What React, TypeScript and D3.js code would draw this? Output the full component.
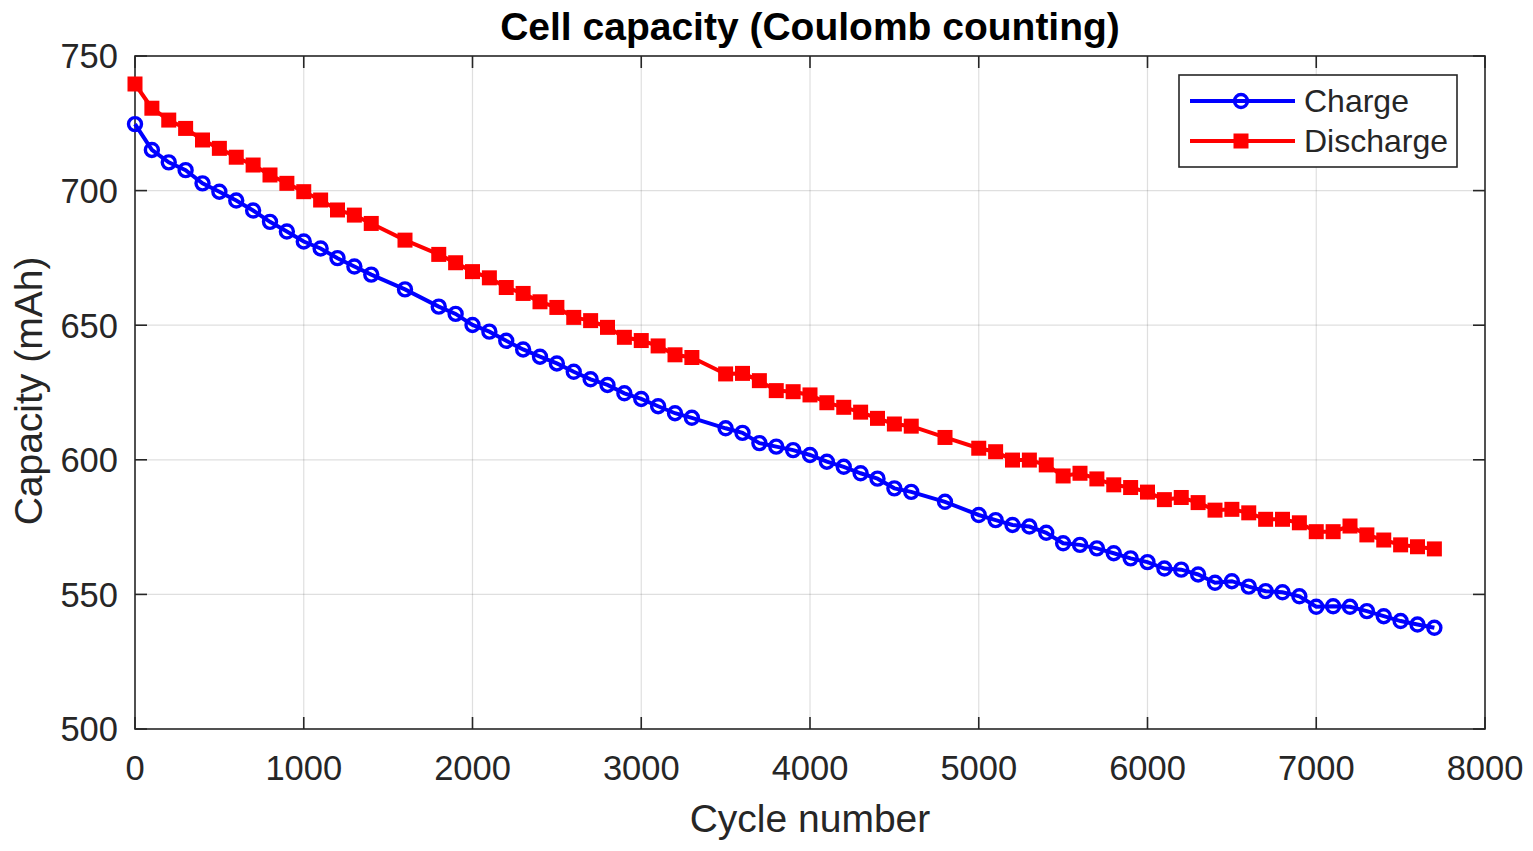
import * as d3 from 'd3'

const cycles = [
  0, 100, 200, 300, 400, 500, 600, 700, 800, 900, 1000, 1100, 1200, 1300, 1400,
  1600, 1800, 1900, 2000, 2100, 2200, 2300, 2400, 2500, 2600, 2700, 2800, 2900,
  3000, 3100, 3200, 3300, 3500, 3600, 3700, 3800, 3900, 4000, 4100, 4200, 4300,
  4400, 4500, 4600, 4800, 5000, 5100, 5200, 5300, 5400, 5500, 5600, 5700, 5800,
  5900, 6000, 6100, 6200, 6300, 6400, 6500, 6600, 6700, 6800, 6900, 7000, 7100,
  7200, 7300, 7400, 7500, 7600, 7700,
]

const charge = [
  724.7, 715.1, 710.5, 707.6, 702.7, 699.6, 696.3, 692.6, 688.4, 684.8, 681.1, 678.5, 674.9, 671.8, 668.8,
  663.3, 656.9, 654.2, 650.1, 647.6, 644.2, 641.0, 638.3, 635.8, 632.7, 629.9, 627.8, 624.7,
  622.6, 619.9, 617.3, 615.6, 611.7, 610.0, 606.2, 604.9, 603.6, 601.8, 599.3, 597.4, 595.0,
  593.0, 589.4, 588.1, 584.4, 579.5, 577.6, 575.8, 575.2, 572.9, 569.0, 568.4, 567.1, 565.3,
  563.4, 562.0, 559.6, 559.2, 557.4, 554.3, 554.9, 552.9, 551.2, 550.8, 549.3, 545.4, 545.6,
  545.4, 543.8, 541.9, 540.1, 538.8, 537.6,
]

const discharge = [
  739.6, 730.6, 726.2, 723.1, 718.8, 715.7, 712.4, 709.5, 705.8, 702.7, 699.6, 696.5, 692.8, 690.9, 687.8,
  681.6, 676.3, 673.2, 669.9, 667.6, 664.0, 661.8, 658.7, 656.6, 652.9, 651.7, 649.2, 645.5,
  644.3, 642.3, 639.0, 638.0, 631.9, 632.1, 629.4, 625.7, 625.3, 624.1, 621.2, 619.5, 617.7,
  615.4, 613.3, 612.5, 608.3, 604.3, 603.0, 599.9, 599.9, 598.1, 594.0, 595.0, 592.9, 590.7,
  589.7, 588.0, 585.2, 586.0, 584.1, 581.3, 581.6, 580.3, 577.9, 577.9, 576.6, 573.3, 573.3,
  575.4, 572.1, 570.2, 568.4, 567.7, 566.9,
]

const xTicks = [0, 1000, 2000, 3000, 4000, 5000, 6000, 7000, 8000]
const yTicks = [500, 550, 600, 650, 700, 750]

const W = 1533
const H = 851
const plot = { left: 135, right: 1485, top: 56, bottom: 729 }
const axisColor = '#262626'
const font = '"Liberation Sans", Arial, Helvetica, sans-serif'

export default function App() {
  const x = d3.scaleLinear().domain([0, 8000]).range([plot.left, plot.right])
  const y = d3.scaleLinear().domain([500, 750]).range([plot.bottom, plot.top])

  const line = d3.line<number>()
    .x((_, i) => x(cycles[i]))
    .y(d => y(d))

  const tick = 12

  return (
    <svg width={W} height={H} style={{ position: 'absolute', left: 0, top: 0, background: '#fff' }}
      fontFamily={font}>
      {/* grid */}
      {xTicks.slice(1, -1).map(t => (
        <line key={'gx' + t} x1={x(t)} x2={x(t)} y1={plot.top} y2={plot.bottom}
          stroke={axisColor} strokeOpacity={0.15} strokeWidth={1.2} />
      ))}
      {yTicks.slice(1, -1).map(t => (
        <line key={'gy' + t} x1={plot.left} x2={plot.right} y1={y(t)} y2={y(t)}
          stroke={axisColor} strokeOpacity={0.15} strokeWidth={1.2} />
      ))}

      {/* box and ticks */}
      <rect x={plot.left} y={plot.top} width={plot.right - plot.left} height={plot.bottom - plot.top}
        fill="none" stroke={axisColor} strokeWidth={1.6} />
      {xTicks.map(t => (
        <g key={'tx' + t}>
          <line x1={x(t)} x2={x(t)} y1={plot.bottom} y2={plot.bottom - tick} stroke={axisColor} strokeWidth={1.6} />
          <line x1={x(t)} x2={x(t)} y1={plot.top} y2={plot.top + tick} stroke={axisColor} strokeWidth={1.6} />
          <text x={x(t)} y={780} textAnchor="middle" fontSize={34.5} fill={axisColor}>{t}</text>
        </g>
      ))}
      {yTicks.map(t => (
        <g key={'ty' + t}>
          <line x1={plot.left} x2={plot.left + tick} y1={y(t)} y2={y(t)} stroke={axisColor} strokeWidth={1.6} />
          <line x1={plot.right} x2={plot.right - tick} y1={y(t)} y2={y(t)} stroke={axisColor} strokeWidth={1.6} />
          <text x={118} y={y(t)} dy="0.36em" textAnchor="end" fontSize={34.5} fill={axisColor}>{t}</text>
        </g>
      ))}

      {/* series */}
      <path d={line(charge) ?? ''} fill="none" stroke="#0000ff" strokeWidth={4} />
      {charge.map((v, i) => (
        <circle key={'c' + i} cx={x(cycles[i])} cy={y(v)} r={6.5} fill="none" stroke="#0000ff" strokeWidth={3.4} />
      ))}
      <path d={line(discharge) ?? ''} fill="none" stroke="#ff0000" strokeWidth={4} />
      {discharge.map((v, i) => (
        <rect key={'d' + i} x={x(cycles[i]) - 7.5} y={y(v) - 7.5} width={15} height={15} fill="#ff0000" />
      ))}

      {/* labels */}
      <text x={810} y={40} textAnchor="middle" fontSize={39} fontWeight="bold" fill="#000">
        Cell capacity (Coulomb counting)
      </text>
      <text x={810} y={832} textAnchor="middle" fontSize={39} fill={axisColor}>Cycle number</text>
      <text transform="translate(42,391) rotate(-90)" textAnchor="middle" fontSize={39} fill={axisColor}>
        Capacity (mAh)
      </text>

      {/* legend */}
      <rect x={1179} y={75} width={278} height={92} fill="#fff" stroke={axisColor} strokeWidth={1.6} />
      <line x1={1190} x2={1295} y1={101} y2={101} stroke="#0000ff" strokeWidth={4} />
      <circle cx={1241} cy={101} r={6.5} fill="none" stroke="#0000ff" strokeWidth={3.4} />
      <text x={1304} y={112} fontSize={32} fill={axisColor}>Charge</text>
      <line x1={1190} x2={1295} y1={141} y2={141} stroke="#ff0000" strokeWidth={4} />
      <rect x={1233.5} y={133.5} width={15} height={15} fill="#ff0000" />
      <text x={1304} y={152} fontSize={32} fill={axisColor}>Discharge</text>
    </svg>
  )
}
